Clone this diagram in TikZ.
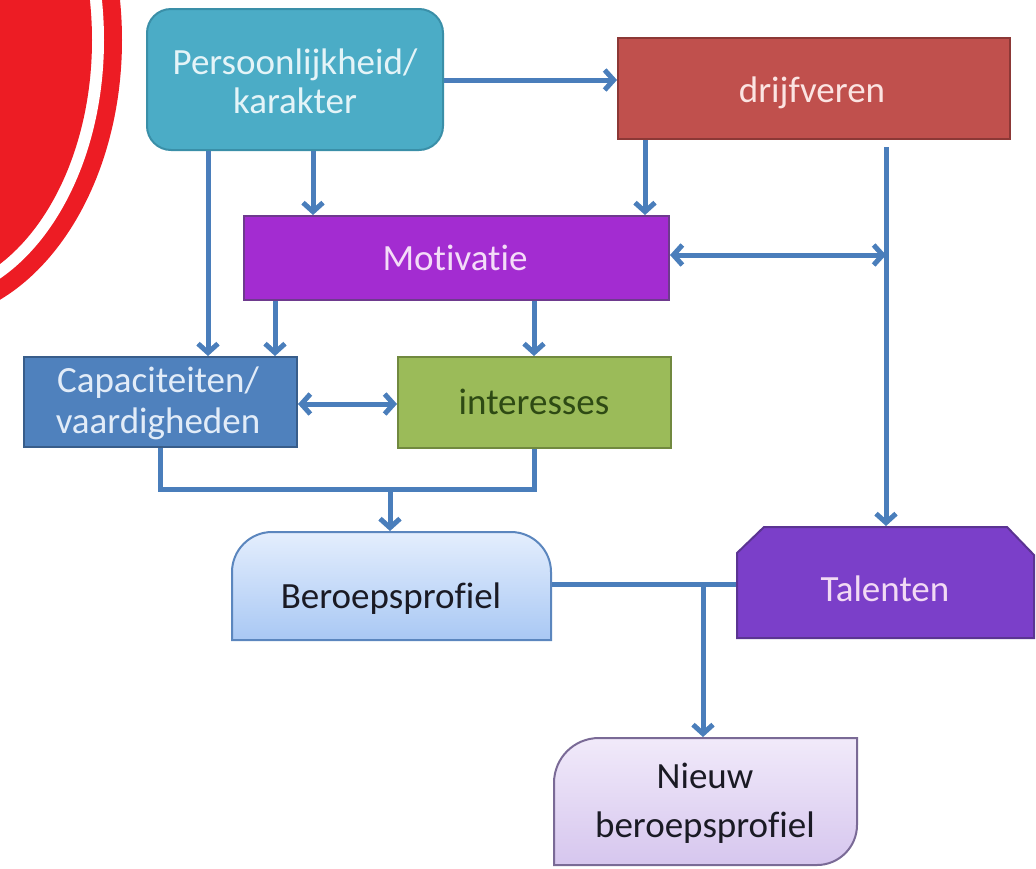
\documentclass[tikz,border=0pt]{standalone}
\usepackage{fontspec}
\setmainfont{Carlito}[Ligatures={NoCommon}]
\usetikzlibrary{arrows.meta}
\definecolor{logored}{HTML}{ED1C24}
\definecolor{linkblue}{HTML}{4A7EBB}
\definecolor{tealfill}{HTML}{4BACC6}
\definecolor{tealedge}{HTML}{3A8FA8}
\definecolor{tealtext}{HTML}{E4F4F8}
\definecolor{redfill}{HTML}{C0504D}
\definecolor{rededge}{HTML}{8C3836}
\definecolor{redtext}{HTML}{FBE4E2}
\definecolor{motfill}{HTML}{A32CD1}
\definecolor{motedge}{HTML}{6E3A8E}
\definecolor{mottext}{HTML}{F4DCF8}
\definecolor{capfill}{HTML}{4F81BD}
\definecolor{capedge}{HTML}{385D8A}
\definecolor{captext}{HTML}{E2ECF8}
\definecolor{intfill}{HTML}{9BBB59}
\definecolor{intedge}{HTML}{71893F}
\definecolor{inttext}{HTML}{2E4A14}
\definecolor{bertop}{HTML}{E4EEFD}
\definecolor{berbot}{HTML}{A9C8F4}
\definecolor{beredge}{HTML}{5B86BE}
\definecolor{talfill}{HTML}{7B3FC9}
\definecolor{taledge}{HTML}{5B3492}
\definecolor{taltext}{HTML}{F2DAF4}
\definecolor{nieuwtop}{HTML}{F1EAFA}
\definecolor{nieuwbot}{HTML}{D6C6EE}
\definecolor{nieuwedge}{HTML}{7A6A96}
\definecolor{darktext}{HTML}{1A1A24}
\begin{document}
\begin{tikzpicture}[x=1pt,y=-1pt,
  box/.style={rectangle, inner sep=0pt, line width=2pt},
  lbl/.style={font=\fontsize{37}{39}\selectfont, anchor=base, inner sep=0pt},
  link/.style={draw=linkblue, line width=5pt},
  arr/.style={link, -{Straight Barb[length=9pt,width=20pt]}},
  both/.style={link, {Straight Barb[length=9pt,width=20pt]}-{Straight Barb[length=9pt,width=20pt]}}]
\useasboundingbox (0,0) rectangle (1036,868);
% logo arc
\begin{scope}
  \clip (0,0) rectangle (1036,868);
  \fill[logored] (-78,40) ellipse[x radius=200pt, y radius=282pt];
  \fill[white] (-78,40) ellipse[x radius=182pt, y radius=264pt];
  \fill[logored] (-78,40) ellipse[x radius=170pt, y radius=252pt];
\end{scope}
% boxes
\node[box, draw=tealedge, fill=tealfill, rounded corners=24pt, minimum width=296pt, minimum height=141pt] (P) at (295,79.5) {};
\node[lbl, text=tealtext] (P1) at (295,74) {Persoonlijkheid/};
\node[lbl, text=tealtext] (P2) at (295,113) {karakter};
\node[box, draw=rededge, fill=redfill, minimum width=392pt, minimum height=101pt] (D) at (814,88.5) {};
\node[lbl, text=redtext] (D1) at (812,102) {drijfveren};
\node[box, draw=motedge, fill=motfill, minimum width=425pt, minimum height=84pt] (M) at (456.5,258) {};
\node[lbl, text=mottext] (M1) at (455,270) {Motivatie};
\node[box, draw=capedge, fill=capfill, minimum width=273pt, minimum height=90pt] (C) at (160.5,402) {};
\node[lbl, text=captext] (C1) at (158,392) {Capaciteiten/};
\node[lbl, text=captext] (C2) at (158,433) {vaardigheden};
\node[box, draw=intedge, fill=intfill, minimum width=273pt, minimum height=91pt] (I) at (534.5,402.5) {};
\node[lbl, text=inttext] (I1) at (534,414) {interesses};
% Beroepsprofiel
\shadedraw[top color=bertop, bottom color=berbot, draw=beredge, line width=2pt]
  (232,640) -- (232,572) .. controls (232,550) and (250,532) .. (272,532) -- (511,532)
  .. controls (533,532) and (551,550) .. (551,572) -- (551,640) -- cycle;
\node[box, minimum width=319pt, minimum height=108pt] (B) at (391.5,586) {};
\node[lbl, text=darktext] (B1) at (391,608) {Beroepsprofiel};
% Talenten
\filldraw[fill=talfill, draw=taledge, line width=2pt]
  (737,638) -- (737,553) -- (764,527) -- (1007,527) -- (1034,555) -- (1034,638) -- cycle;
\node[box, minimum width=297pt, minimum height=111pt] (T) at (885.5,582.5) {};
\node[lbl, text=taltext] (T1) at (885,601) {Talenten};
% Nieuw beroepsprofiel
\shadedraw[top color=nieuwtop, bottom color=nieuwbot, draw=nieuwedge, line width=2pt]
  (554,865) -- (554,783) .. controls (554,758) and (574,738) .. (599,738) -- (857,738)
  -- (857,825) .. controls (857,847) and (839,865) .. (817,865) -- cycle;
\node[box, minimum width=303pt, minimum height=127pt] (N) at (705.5,801.5) {};
\node[lbl, text=darktext] (N1) at (705,788) {Nieuw};
\node[lbl, text=darktext] (N2) at (705,837) {beroepsprofiel};
% helper coordinates
\coordinate (xa) at (208,0);
\coordinate (xb) at (313,0);
\coordinate (xc) at (275,0);
\coordinate (xd) at (645,0);
\coordinate (xf) at (534,0);
\coordinate (xg) at (160,0);
\coordinate (ya) at (0,80);
\coordinate (yb) at (0,404);
\coordinate (ja) at (886,255);
\coordinate (jb) at (390,489);
\coordinate (jc) at (703,584);
\coordinate (ts) at (886,147);
% connectors
\draw[arr] (P.east |- ya) -- (D.west |- ya);
\draw[arr] (P.south -| xb) -- (M.north -| xb);
\draw[arr] (P.south -| xa) -- (C.north -| xa);
\draw[arr] (D.south -| xd) -- (M.north -| xd);
\draw[arr] (ts) -- (T.north -| ts);
\draw[both] (M.east |- ja) -- (ja);
\draw[arr] (M.south -| xc) -- (C.north -| xc);
\draw[arr] (M.south -| xf) -- (I.north -| xf);
\draw[both] (C.east |- yb) -- (I.west |- yb);
\draw[link] (C.south -| xg) -- (xg |- jb) -- (xf |- jb) -- (I.south -| xf);
\draw[arr] (jb) -- (B.north -| jb);
\draw[link] (B.east |- jc) -- (T.west |- jc);
\draw[arr] (jc) -- (N.north -| jc);
\end{tikzpicture}
\end{document}
